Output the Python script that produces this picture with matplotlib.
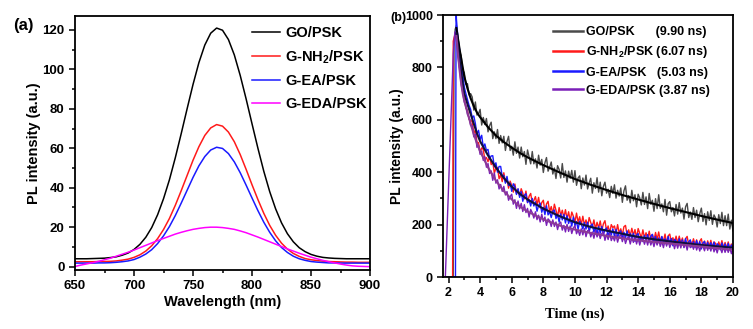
import numpy as np
import matplotlib
matplotlib.use("Agg")
import matplotlib.pyplot as plt
from matplotlib.ticker import MultipleLocator

plt.rcParams['font.family'] = ['Liberation Sans', 'DejaVu Sans']
plt.rcParams['font.weight'] = 'bold'
plt.rcParams['mathtext.fontset'] = 'custom'
plt.rcParams['mathtext.rm'] = 'Liberation Sans:bold'
plt.rcParams['mathtext.bf'] = 'Liberation Sans:bold'

# ---- (a) steady-state PL spectra ----
wavelength = list(range(650, 905, 5))
pl_go = [4.0, 4.0, 4.0, 4.1, 4.2, 4.3, 4.6, 5.0, 5.8, 6.9,
         8.7, 11.3, 14.9, 19.8, 26.3, 34.4, 44.0, 55.2, 67.4, 80.0,
         92.3, 103.4, 112.3, 118.3, 120.9, 119.8, 115.1, 107.3, 96.9, 85.0,
         72.4, 60.0, 48.3, 38.0, 29.3, 22.2, 16.7, 12.6, 9.6, 7.6,
         6.2, 5.3, 4.7, 4.4, 4.2, 4.1, 4.0, 4.0, 4.0, 4.0, 4.0]
pl_nh2 = [2.5, 2.5, 2.5, 2.5, 2.6, 2.6, 2.7, 2.9, 3.3, 3.8,
          4.7, 6.0, 7.9, 10.6, 14.2, 18.8, 24.4, 31.1, 38.5, 46.2,
          53.9, 60.8, 66.5, 70.3, 72.0, 71.2, 68.2, 63.3, 56.8, 49.3,
          41.5, 34.0, 27.0, 20.9, 15.9, 11.9, 8.9, 6.7, 5.2, 4.1,
          3.5, 3.1, 2.8, 2.6, 2.5, 2.4, 2.3, 2.3, 2.2, 2.2, 2.2]
pl_ea = [1.8, 1.8, 1.8, 1.8, 1.9, 1.9, 2.0, 2.2, 2.5, 2.9,
         3.6, 4.8, 6.4, 8.6, 11.7, 15.6, 20.3, 25.9, 32.2, 38.7,
         45.2, 51.1, 55.8, 59.1, 60.5, 59.9, 57.3, 53.1, 47.6, 41.3,
         34.8, 28.4, 22.5, 17.4, 13.1, 9.7, 7.2, 5.3, 4.0, 3.2,
         2.6, 2.3, 2.1, 1.9, 1.9, 1.8, 1.8, 1.8, 1.8, 1.8, 1.8]
pl_eda = [0.1, 0.8, 1.4, 2.0, 2.7, 3.5, 4.3, 5.3, 6.3, 7.3,
          8.4, 9.6, 10.8, 12.0, 13.2, 14.3, 15.4, 16.5, 17.4, 18.2,
          18.9, 19.4, 19.8, 20.0, 20.0, 19.8, 19.4, 18.9, 18.1, 17.2,
          16.1, 15.0, 13.8, 12.6, 11.4, 10.2, 9.0, 7.9, 6.8, 5.8,
          4.8, 4.0, 3.2, 2.5, 1.9, 1.3, 0.8, 0.4, 0.2, 0.1, 0.0]

# ---- (b) time-resolved PL decays (0.1 ns channels from 2.5 ns) ----
t_decay = np.round(np.arange(2.5, 20.05, 0.1), 1)

rise_t_go, rise_go = [1.8, 2.3, 2.35, 2.42], [0, 0, 880, 945]
rise_t_nh2, rise_nh2 = [1.8, 2.26, 2.3, 2.4], [0, 0, 900, 925]
rise_t_ea, rise_ea = [1.8, 2.44, 2.48], [0, 0, 1040]
rise_t_eda, rise_eda = [1.8, 1.9, 2.0, 2.1, 2.2, 2.3, 2.4], [0, 170, 340, 510, 680, 850, 935]

trpl_go = [960, 915, 862, 845, 790, 780, 735, 738, 695, 700,
           687, 637, 668, 618, 623, 640, 580, 609, 582, 605,
           554, 578, 591, 528, 554, 528, 563, 510, 540, 512,
           537, 483, 517, 537, 483, 499, 465, 516, 472, 496,
           454, 496, 459, 479, 430, 485, 459, 432, 479, 432,
           451, 416, 465, 427, 449, 399, 436, 456, 404, 419,
           439, 393, 416, 376, 425, 410, 378, 433, 380, 405,
           362, 404, 377, 407, 362, 406, 350, 378, 386, 337,
           378, 351, 389, 336, 359, 377, 320, 360, 338, 379,
           324, 362, 310, 346, 362, 320, 335, 303, 346, 319,
           352, 301, 331, 309, 340, 285, 329, 348, 293, 311,
           283, 331, 291, 314, 268, 316, 302, 275, 323, 277,
           306, 261, 319, 278, 293, 251, 299, 261, 314, 262,
           279, 249, 296, 236, 280, 288, 249, 265, 233, 277,
           240, 284, 244, 263, 221, 268, 281, 227, 248, 220,
           265, 227, 255, 211, 242, 263, 212, 242, 199, 249,
           216, 253, 201, 237, 225, 191, 238, 204, 247, 196,
           234, 196, 240, 183, 217, 176]
trpl_nh2 = [905, 862, 800, 765, 708, 684, 645, 636, 602, 598,
            593, 548, 561, 515, 513, 475, 493, 487, 448, 456,
            440, 461, 429, 440, 396, 416, 418, 375, 390, 364,
            398, 363, 376, 339, 366, 350, 324, 355, 318, 335,
            309, 337, 320, 298, 328, 284, 308, 319, 282, 292,
            307, 276, 304, 264, 284, 293, 252, 279, 289, 249,
            269, 241, 278, 255, 230, 265, 235, 255, 226, 257,
            223, 249, 213, 248, 232, 209, 244, 209, 230, 199,
            232, 198, 218, 191, 227, 208, 191, 218, 183, 209,
            187, 214, 177, 203, 215, 177, 195, 168, 200, 188,
            195, 167, 200, 167, 184, 160, 192, 197, 159, 180,
            157, 186, 159, 181, 150, 185, 167, 149, 180, 149,
            169, 146, 175, 143, 162, 138, 170, 143, 172, 137,
            153, 135, 164, 130, 157, 164, 133, 150, 127, 156,
            129, 156, 130, 149, 121, 146, 155, 122, 139, 123,
            146, 123, 142, 115, 137, 146, 116, 137, 112, 138,
            117, 140, 112, 134, 128, 108, 134, 114, 139, 111,
            132, 110, 134, 107, 126, 108]
trpl_ea = [985, 910, 870, 810, 775, 725, 700, 678, 655, 640,
           608, 615, 586, 545, 560, 525, 541, 494, 508, 483,
           487, 451, 462, 463, 421, 436, 400, 422, 422, 384,
           388, 358, 384, 349, 358, 327, 356, 345, 315, 337,
           304, 326, 289, 312, 318, 284, 295, 271, 300, 271,
           287, 251, 273, 282, 247, 266, 238, 272, 237, 249,
           227, 251, 256, 223, 239, 210, 241, 218, 239, 206,
           234, 204, 223, 194, 229, 196, 212, 182, 213, 202,
           183, 208, 183, 209, 173, 196, 202, 171, 189, 165,
           193, 167, 193, 162, 181, 187, 155, 179, 160, 184,
           155, 182, 151, 170, 176, 145, 171, 149, 176, 145,
           166, 145, 167, 136, 160, 166, 135, 154, 135, 159,
           138, 162, 134, 156, 163, 136, 155, 127, 149, 130,
           155, 129, 146, 125, 155, 128, 147, 119, 144, 138,
           120, 146, 123, 142, 114, 147, 118, 135, 142, 114,
           135, 113, 139, 116, 135, 107, 130, 136, 111, 132,
           109, 131, 110, 133, 105, 127, 121, 104, 130, 107,
           126, 104, 128, 105, 122, 100]
trpl_eda = [925, 840, 795, 735, 705, 668, 655, 620, 610, 578,
            577, 535, 545, 495, 503, 468, 481, 445, 459, 419,
            433, 395, 405, 369, 397, 358, 371, 336, 353, 327,
            346, 313, 326, 293, 307, 316, 278, 295, 262, 290,
            260, 281, 250, 276, 246, 262, 229, 258, 245, 225,
            249, 219, 236, 210, 240, 212, 229, 197, 222, 215,
            193, 218, 193, 210, 181, 204, 210, 179, 197, 172,
            201, 174, 195, 166, 187, 196, 165, 180, 159, 184,
            161, 185, 154, 177, 178, 153, 172, 148, 177, 153,
            172, 147, 166, 172, 140, 164, 143, 167, 139, 155,
            138, 161, 133, 155, 161, 135, 156, 128, 147, 154,
            126, 150, 132, 154, 126, 149, 122, 144, 147, 125,
            146, 122, 148, 122, 140, 116, 142, 122, 144, 117,
            136, 112, 139, 118, 141, 113, 129, 136, 108, 132,
            110, 133, 111, 135, 112, 129, 103, 130, 112, 128,
            106, 130, 103, 122, 99, 125, 117, 100, 126, 102,
            122, 99, 124, 96, 115, 92, 116, 111, 93, 116,
            94, 115, 94, 112, 89, 109]

# multi-exponential fits
t_fit = [2.5, 2.6, 2.7, 2.8, 2.9, 3.0, 3.2, 3.4, 3.6, 3.8, 4.0, 4.5, 5.0, 5.5,
         6.0, 6.5, 7.0, 8.0, 9.0, 10, 11, 12, 13, 14, 15, 16, 17, 18, 19, 20]
fit_go = [950, 910, 870, 835, 800, 765, 720, 682, 652, 628, 610, 572, 540, 515,
          494, 474, 457, 427, 400, 374, 352, 332, 313, 296, 279, 263, 248, 233, 219, 206]
fit_nh2 = [930, 880, 830, 785, 740, 700, 660, 622, 585, 548, 518, 464, 418, 378,
           345, 318, 296, 261, 233, 209, 191, 177, 165, 153, 144, 136, 129, 122, 117, 112]
fit_eda = [920, 850, 790, 740, 700, 672, 628, 585, 545, 510, 480, 418, 368, 328,
           296, 270, 250, 220, 197, 181, 168, 157, 148, 140, 134, 128, 122, 116, 110, 104]

labels = ['GO/PSK', r'G-NH$_\mathbf{2}$/PSK', 'G-EA/PSK', 'G-EDA/PSK']
lifetimes = ['      (9.90 ns)', ' (6.07 ns)', '   (5.03 ns)', ' (3.87 ns)']

fig = plt.figure(figsize=(7.53, 3.29), dpi=100)
ax1 = fig.add_axes([0.0996, 0.1793, 0.3918, 0.772])
ax2 = fig.add_axes([0.5887, 0.158, 0.3847, 0.7964])

for ax in (ax1, ax2):
    for s in ax.spines.values():
        s.set_linewidth(1.3)
    ax.tick_params(which='both', direction='out', top=False, right=False, width=1.1)
    ax.tick_params(which='major', length=4)
    ax.tick_params(which='minor', length=2.5)
ax1.tick_params(labelsize=9.5)
ax2.tick_params(labelsize=9)

# (a)
spec_colors = ['black', '#ff1a1a', '#1a1aff', '#ff00ff']
for ys, c, lab in zip([pl_go, pl_nh2, pl_ea, pl_eda], spec_colors, labels):
    ax1.plot(wavelength, ys, color=c, lw=1.1, label=lab)
ax1.set_xlim(650, 900)
ax1.set_ylim(-1.7, 127)
ax1.xaxis.set_major_locator(MultipleLocator(50))
ax1.xaxis.set_minor_locator(MultipleLocator(25))
ax1.yaxis.set_major_locator(MultipleLocator(20))
ax1.yaxis.set_minor_locator(MultipleLocator(10))
ax1.set_xlabel('Wavelength (nm)', fontsize=10.5, fontweight='bold', labelpad=1.5)
ax1.set_ylabel('PL intensity (a.u.)', fontsize=10.5, fontweight='bold', labelpad=1)
ax1.legend(loc='upper right', bbox_to_anchor=(1.019, 0.996), frameon=False, fontsize=10.5,
           handlelength=1.9, handletextpad=0.35, labelspacing=0.58, borderaxespad=0.2)
fig.text(0.017, 0.924, '(a)', fontsize=12, fontweight='bold', va='center')

# (b)
decay_sets = [
    (rise_t_go, rise_go, trpl_go, '#4a4a4a'),
    (rise_t_nh2, rise_nh2, trpl_nh2, '#ff1a1a'),
    (rise_t_ea, rise_ea, trpl_ea, '#1a1aff'),
    (rise_t_eda, rise_eda, trpl_eda, '#7a1fb8'),
]
for (rt, rv, dv, c), lab, tau in zip(decay_sets, labels, lifetimes):
    ax2.plot(list(rt) + list(t_decay), list(rv) + list(dv), color=c, lw=1.0,
             label=lab + tau)
ax2.plot(t_fit, fit_go, color='black', lw=1.5)
ax2.plot(t_fit, fit_nh2, color='#10103a', lw=1.5)
ax2.plot(t_fit, fit_eda, color='#8c3a96', lw=1.5)
ax2.set_xlim(1.67, 20)
ax2.set_ylim(0, 1000)
ax2.xaxis.set_major_locator(MultipleLocator(2))
ax2.xaxis.set_minor_locator(MultipleLocator(1))
ax2.yaxis.set_major_locator(MultipleLocator(200))
ax2.yaxis.set_minor_locator(MultipleLocator(100))
ax2.set_xlabel('Time (ns)', fontsize=10.5, fontweight='bold', family='Liberation Serif', labelpad=2)
ax2.xaxis.set_label_coords(0.455, -0.115)
ax2.set_ylabel('PL intensity (a.u.)', fontsize=10, fontweight='bold', labelpad=0.5)
leg = ax2.legend(loc='upper right', bbox_to_anchor=(0.939, 0.977), frameon=False, fontsize=9,
                 handlelength=2.4, handletextpad=0.25, labelspacing=0.5, borderaxespad=0.0)
for line in leg.get_lines():
    line.set_linewidth(1.8)
fig.text(0.518, 0.945, '(b)', fontsize=9, fontweight='bold', va='center')

fig.savefig('out.png', dpi=100)
